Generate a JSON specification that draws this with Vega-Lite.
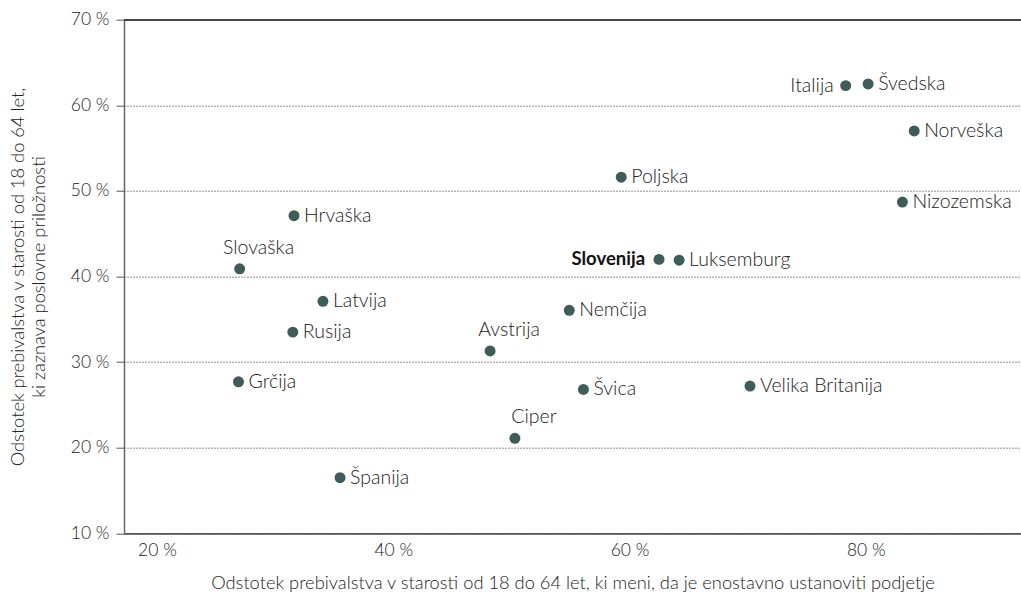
{
  "$schema": "https://vega.github.io/schema/vega-lite/v6.json",
  "width": 897,
  "height": 513.6,
  "autosize": {"type": "none"},
  "padding": {"left": 124, "top": 19.7, "right": 0, "bottom": 66.7},
  "background": "white",
  "config": {
    "font": "Lato",
    "view": {"stroke": null},
    "text": {"font": "Lato"}
  },
  "data": {
    "values": [
      {"country": "Hrvaška", "x": 31.6, "y": 47.1},
      {"country": "Slovaška", "x": 27.0, "y": 40.9},
      {"country": "Latvija", "x": 34.05, "y": 37.1},
      {"country": "Rusija", "x": 31.5, "y": 33.5},
      {"country": "Grčija", "x": 26.9, "y": 27.7},
      {"country": "Španija", "x": 35.5, "y": 16.5},
      {"country": "Poljska", "x": 59.3, "y": 51.6},
      {"country": "Slovenija", "x": 62.5, "y": 42.0},
      {"country": "Luksemburg", "x": 64.2, "y": 41.9},
      {"country": "Nemčija", "x": 54.9, "y": 36.05},
      {"country": "Avstrija", "x": 48.2, "y": 31.3},
      {"country": "Švica", "x": 56.1, "y": 26.8},
      {"country": "Velika Britanija", "x": 70.2, "y": 27.2},
      {"country": "Ciper", "x": 50.3, "y": 21.1},
      {"country": "Italija", "x": 78.3, "y": 62.3},
      {"country": "Švedska", "x": 80.2, "y": 62.5},
      {"country": "Norveška", "x": 84.1, "y": 57.0},
      {"country": "Nizozemska", "x": 83.1, "y": 48.7}
    ]
  },
  "encoding": {
    "x": {
      "field": "x",
      "type": "quantitative",
      "scale": {"domain": [17.21, 93.14], "nice": false, "zero": false},
      "axis": {
        "values": [20, 40, 60, 80],
        "labelExpr": "datum.value + ' %'",
        "ticks": false,
        "grid": false,
        "domainColor": "#222",
        "domainWidth": 1.2,
        "labelFont": "Lato",
        "labelFontWeight": 300,
        "labelFontSize": 17.5,
        "labelColor": "#222",
        "labelPadding": 8,
        "title": "Odstotek prebivalstva v starosti od 18 do 64 let, ki meni, da je enostavno ustanoviti podjetje",
        "titleFont": "Lato",
        "titleFontWeight": 300,
        "titleFontSize": 18.3,
        "titleColor": "#222",
        "titlePadding": 16
      }
    },
    "y": {
      "field": "y",
      "type": "quantitative",
      "scale": {"domain": [10, 70], "nice": false, "zero": false},
      "axis": {
        "values": [10, 20, 30, 40, 50, 60, 70],
        "labelExpr": "datum.value + ' %'",
        "tickSize": 8,
        "tickColor": "#555",
        "domainColor": "#666",
        "domainWidth": 1.5,
        "grid": true,
        "gridColor": "#222",
        "gridDash": [1, 2],
        "gridWidth": 1,
        "labelFont": "Lato",
        "labelFontWeight": 300,
        "labelFontSize": 17.5,
        "labelColor": "#222",
        "labelPadding": 7,
        "title": ["Odstotek prebivalstva v starosti od 18 do 64 let,", "ki zaznava poslovne priložnosti"],
        "titleFont": "Lato",
        "titleFontWeight": 300,
        "titleFontSize": 18.3,
        "titleColor": "#222",
        "titleLineHeight": 21,
        "titlePadding": 22
      }
    }
  },
  "layer": [
    {
      "mark": {"type": "rule", "color": "#444", "strokeWidth": 1.2},
      "encoding": {"y": {"datum": 70}, "x": {"datum": 17.21}, "x2": {"datum": 93.14}}
    },
    {
      "mark": {"type": "point", "filled": true, "size": 120, "color": "#3e5c58", "opacity": 1}
    },
    {
      "transform": [{"filter": {"not": {"field": "country", "oneOf": ["Slovaška", "Avstrija", "Ciper", "Italija", "Slovenija"]}}}],
      "mark": {"type": "text", "align": "left", "baseline": "middle", "dx": 10, "fontSize": 19.5, "fontWeight": 300, "color": "#222"},
      "encoding": {"text": {"field": "country"}}
    },
    {
      "transform": [{"filter": {"field": "country", "oneOf": ["Slovaška", "Avstrija", "Ciper"]}}],
      "mark": {"type": "text", "align": "center", "baseline": "middle", "dx": 19, "dy": -21, "fontSize": 19.5, "fontWeight": 300, "color": "#222"},
      "encoding": {"text": {"field": "country"}}
    },
    {
      "transform": [{"filter": {"field": "country", "equal": "Italija"}}],
      "mark": {"type": "text", "align": "right", "baseline": "middle", "dx": -12, "fontSize": 19.5, "fontWeight": 300, "color": "#222"},
      "encoding": {"text": {"field": "country"}}
    },
    {
      "transform": [{"filter": {"field": "country", "equal": "Slovenija"}}],
      "mark": {"type": "text", "align": "right", "baseline": "middle", "dx": -14, "fontSize": 18.5, "fontWeight": "bold", "color": "#111"},
      "encoding": {"text": {"field": "country"}}
    }
  ]
}
